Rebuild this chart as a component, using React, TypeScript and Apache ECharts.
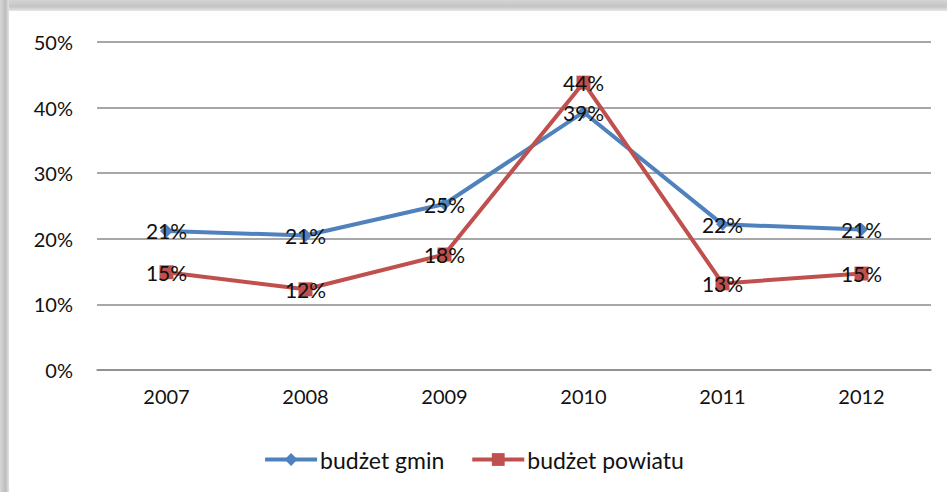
import React, { useEffect, useRef } from "react";
import * as echarts from "echarts";

const categories = ["2007", "2008", "2009", "2010", "2011", "2012"];
const gminValues = [21.2, 20.5, 25.3, 39.3, 22.2, 21.4];
const powiatuValues = [14.9, 12.3, 17.6, 43.8, 13.2, 14.7];
const seriesNames = ["budżet gmin", "budżet powiatu"];

const FONT = "Lato, 'Open Sans', sans-serif";

export default function App() {
  const ref = useRef<HTMLDivElement>(null);
  useEffect(() => {
    if (!ref.current) return;
    const chart = echarts.init(ref.current, undefined, { renderer: "svg" });
    const label = {
      show: true,
      position: "inside" as const,
      color: "#111",
      fontSize: 21,
      fontFamily: FONT,
      formatter: (p: any) => Math.round(p.value) + "%",
    };
    chart.setOption({
      animation: false,
      backgroundColor: "#ffffff",
      graphic: [
        {
          type: "rect",
          shape: { x: 0, y: 0, width: 947, height: 11 },
          style: {
            fill: new echarts.graphic.LinearGradient(0, 0, 0, 1, [
              { offset: 0, color: "#d4d4d4" },
              { offset: 0.6, color: "#c4c4c4" },
              { offset: 1, color: "#e6e6e6" },
            ]),
          },
          z: 100,
        },
        {
          type: "rect",
          shape: { x: 0, y: 0, width: 9, height: 492 },
          style: {
            fill: new echarts.graphic.LinearGradient(0, 0, 1, 0, [
              { offset: 0, color: "#d8d8d8" },
              { offset: 0.6, color: "#bcbcbc" },
              { offset: 1, color: "#e2e2e2" },
            ]),
          },
          z: 100,
        },
      ],
      grid: { left: 97, right: 16, top: 42, bottom: 122, containLabel: false },
      legend: {
        data: seriesNames,
        bottom: 16,
        left: "center",
        itemWidth: 52,
        itemHeight: 16,
        itemGap: 26,
        lineStyle: { width: 4 },
        textStyle: { fontSize: 23, fontFamily: FONT, color: "#111", padding: [0, 0, 0, -2] },
      },
      xAxis: {
        type: "category",
        data: categories,
        boundaryGap: true,
        axisLine: { show: true, lineStyle: { color: "#8a8a8a", width: 1.5 } },
        axisTick: { show: false },
        axisLabel: { fontSize: 20, fontFamily: FONT, color: "#111", margin: 16 },
      },
      yAxis: {
        type: "value",
        min: 0,
        max: 50,
        interval: 10,
        axisLine: { show: false },
        axisTick: { show: false },
        axisLabel: {
          fontSize: 20,
          fontFamily: FONT,
          color: "#111",
          margin: 24,
          formatter: (v: number) => v + "%",
        },
        splitLine: { lineStyle: { color: "#8a8a8a", width: 1.5 } },
      },
      series: [
        {
          name: seriesNames[0],
          type: "line",
          data: gminValues,
          symbol: "diamond",
          symbolSize: 13,
          itemStyle: { color: "#4F81BD" },
          lineStyle: { color: "#4F81BD", width: 4 },
          label,
          z: 2,
        },
        {
          name: seriesNames[1],
          type: "line",
          data: powiatuValues,
          symbol: "rect",
          symbolSize: 14,
          itemStyle: { color: "#C0504D" },
          lineStyle: { color: "#C0504D", width: 4 },
          label,
          z: 3,
        },
      ],
    });
    return () => chart.dispose();
  }, []);
  return (
    <div
      ref={ref}
      style={{ position: "absolute", left: 0, top: 0, width: 947, height: 492 }}
    />
  );
}
